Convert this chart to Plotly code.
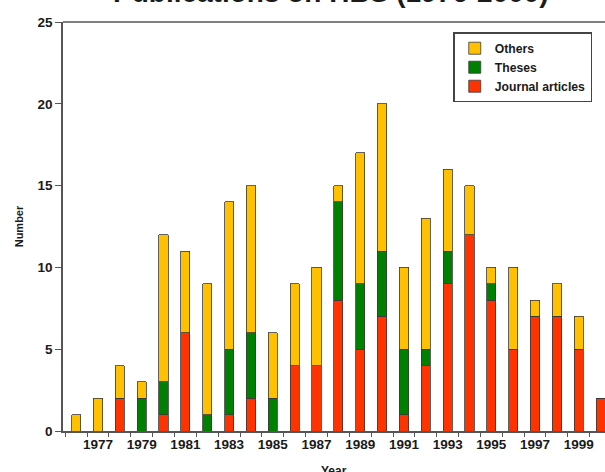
import plotly.graph_objects as go

years = list(range(1976, 2001))
journal = [0, 0, 2, 0, 1, 6, 0, 1, 2, 0, 4, 4, 8, 5, 7, 1, 4, 9, 12, 8, 5, 7, 7, 5, 2]
theses  = [0, 0, 0, 2, 2, 0, 1, 4, 4, 2, 0, 0, 6, 4, 4, 4, 1, 2, 0, 1, 0, 0, 0, 0, 0]
others  = [1, 2, 2, 1, 9, 5, 8, 9, 9, 4, 5, 6, 1, 8, 9, 5, 8, 5, 3, 1, 5, 1, 2, 2, 0]
tick_years = list(range(1977, 2000, 2))
y_ticks = [0, 5, 10, 15, 20, 25]
title_text = "Publications on HBS (1976-2000)"
x_title = "Year"
y_title = "Number"

FONT = "Liberation Sans, Arial, sans-serif"
TXT = "#1a1a1a"
line = dict(color="#3a3a3a", width=0.8)

fig = go.Figure()
fig.add_bar(x=years, y=journal, name="Journal articles", marker=dict(color="#FF3300", line=line))
fig.add_bar(x=years, y=theses, name="Theses", marker=dict(color="#008000", line=line))
fig.add_bar(x=years, y=others, name="Others", marker=dict(color="#FFC000", line=line))

fig.update_layout(
    width=605, height=472,
    barmode="stack", bargap=0.58,
    paper_bgcolor="white", plot_bgcolor="white",
    margin=dict(l=63, r=0, t=22, b=41),
    font=dict(family=FONT, size=12, color=TXT),
    legend=dict(x=0.72, y=0.975, xanchor="left", yanchor="top",
                traceorder="reversed", bordercolor="#444", borderwidth=1.5,
                bgcolor="white", font=dict(size=12.2, weight="bold", family=FONT, color=TXT),
                tracegroupgap=0),
    showlegend=True,
)
fig.add_annotation(text=title_text, xref="paper", yref="paper", x=0.495, y=1.0295,
                   xanchor="center", yanchor="bottom", showarrow=False,
                   font=dict(size=28, weight="bold", family=FONT, color=TXT))
fig.add_annotation(text=x_title, xref="paper", yref="paper", x=0.5, y=-0.0758,
                   xanchor="center", yanchor="top", showarrow=False,
                   font=dict(size=12, weight="bold", family=FONT, color=TXT))
fig.update_xaxes(
    range=[1975.4, 2000.2], tickvals=tick_years, ticktext=[str(t) for t in tick_years],
    ticks="", showgrid=False, zeroline=False, automargin=False,
    showline=True, linecolor="#555", linewidth=1.5,
    tickfont=dict(size=13.5, weight="bold", family=FONT, color=TXT),
    minor=dict(tick0=1975.5, dtick=1, ticks="outside", ticklen=4, tickcolor="#555", tickwidth=1, showgrid=False),
)
fig.update_yaxes(
    range=[0, 25], tickvals=y_ticks, ticks="outside", ticklen=6, tickcolor="#555", tickwidth=1.2,
    showgrid=False, zeroline=False, showline=True, linecolor="#555", linewidth=1.5, automargin=False,
    tickfont=dict(size=13.5, weight="bold", family=FONT, color=TXT),
    title=dict(text=y_title, standoff=12, font=dict(size=11, weight="bold", family=FONT, color=TXT)),
)
fig.add_shape(type="line", xref="paper", yref="paper", x0=0, x1=1, y0=1, y1=1,
              line=dict(color="#555", width=1.5))

fig.write_html("out.html", config={"displayModeBar": False},
               post_script="document.body.style.margin='0';document.body.style.overflow='hidden';")
